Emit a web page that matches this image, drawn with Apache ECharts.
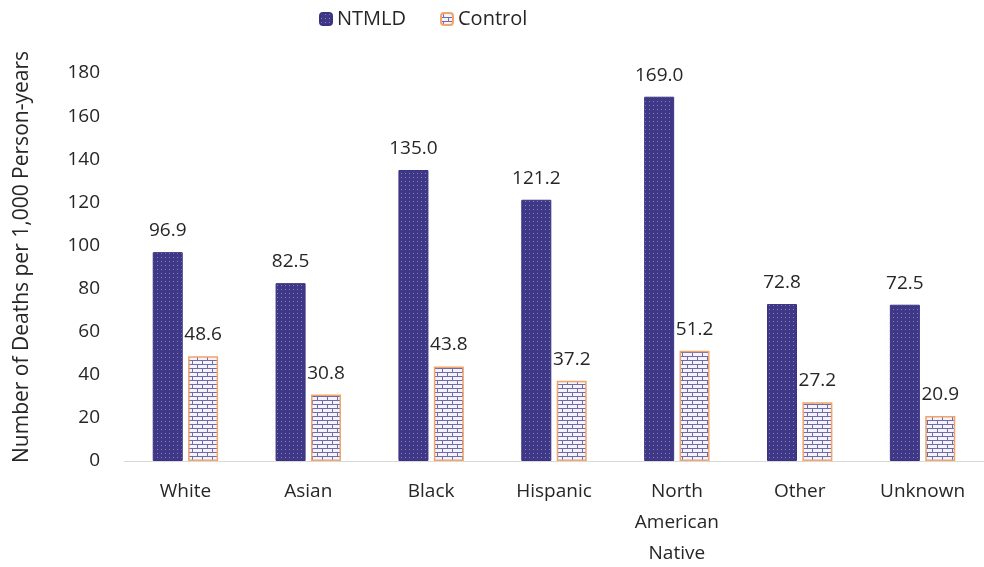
<!DOCTYPE html>
<html>
<head>
<meta charset="utf-8">
<script src="https://cdn.jsdelivr.net/npm/echarts@6/dist/echarts.min.js"></script>
<style>
  html, body { margin: 0; padding: 0; background: #fff; }
  #chart { width: 984px; height: 567px; }
</style>
</head>
<body>
<div id="chart"></div>
<script>
// Death rates per 1,000 person-years by race/ethnicity
const categories = ['White', 'Asian', 'Black', 'Hispanic', 'North\nAmerican\nNative', 'Other', 'Unknown'];
const ntmldValues = [96.9, 82.5, 135.0, 121.2, 169.0, 72.8, 72.5];
const controlValues = [48.6, 30.8, 43.8, 37.2, 51.2, 27.2, 20.9];
const yTicks = { min: 0, max: 180, interval: 20 };

// Dotted fill for the NTMLD bars
function dotPattern() {
  const c = document.createElement('canvas');
  c.width = 4; c.height = 4;
  const g = c.getContext('2d');
  g.fillStyle = '#3f3887';
  g.fillRect(0, 0, 4, 4);
  g.fillStyle = '#8580c0';
  g.fillRect(1, 1, 1, 1);
  return c;
}

// Brick fill for the Control bars
function brickPattern() {
  const c = document.createElement('canvas');
  c.width = 10; c.height = 8;
  const g = c.getContext('2d');
  g.fillStyle = '#f4f3fb';
  g.fillRect(0, 0, 10, 8);
  g.fillStyle = '#6f6aa8';
  g.fillRect(0, 0, 10, 1);
  g.fillRect(0, 4, 10, 1);
  g.fillRect(2, 1, 1, 3);
  g.fillRect(7, 5, 1, 3);
  return c;
}

const font = '"Open Sans", "Liberation Sans", sans-serif';
const textColor = '#262626';
const chart = echarts.init(document.getElementById('chart'));

const valueLabel = {
  show: true,
  position: 'top',
  distance: 12,
  fontSize: 19,
  fontFamily: font,
  color: textColor,
  formatter: p => p.value.toFixed(1)
};

chart.setOption({
  animation: false,
  legend: {
    top: 4,
    left: 314,
    itemWidth: 12,
    itemHeight: 12,
    itemGap: 34,
    textStyle: { fontSize: 20, fontFamily: font, color: textColor },
    data: ['NTMLD', 'Control']
  },
  grid: {
    left: 124, right: 0, top: 73, bottom: 106,
    containLabel: false,
    outerBoundsMode: 'none'
  },
  xAxis: {
    type: 'category',
    data: categories,
    axisLine: { lineStyle: { color: '#d9d9d9', width: 1 } },
    axisTick: { show: false },
    axisLabel: {
      fontSize: 19,
      fontFamily: font,
      color: textColor,
      margin: 15,
      lineHeight: 31,
      interval: 0
    }
  },
  yAxis: {
    type: 'value',
    min: yTicks.min,
    max: yTicks.max,
    interval: yTicks.interval,
    name: 'Number of Deaths per 1,000 Person-years',
    nameLocation: 'middle',
    nameGap: 91,
    nameTextStyle: { fontSize: 21, fontFamily: font, color: textColor, padding: [0, 0, 0, 20] },
    splitLine: { show: false },
    axisLine: { show: false },
    axisTick: { show: false },
    axisLabel: { fontSize: 19, fontFamily: font, color: textColor, margin: 24 }
  },
  series: [
    {
      name: 'NTMLD',
      type: 'bar',
      data: ntmldValues,
      barWidth: 30,
      barGap: '18%',
      itemStyle: {
        color: { image: dotPattern(), repeat: 'repeat' },
        borderColor: '#3a3380',
        borderWidth: 1
      },
      label: valueLabel
    },
    {
      name: 'Control',
      type: 'bar',
      data: controlValues,
      barWidth: 30,
      itemStyle: {
        color: { image: brickPattern(), repeat: 'repeat' },
        borderColor: '#f0a46a',
        borderWidth: 1.5
      },
      label: valueLabel
    }
  ]
});
</script>
</body>
</html>
